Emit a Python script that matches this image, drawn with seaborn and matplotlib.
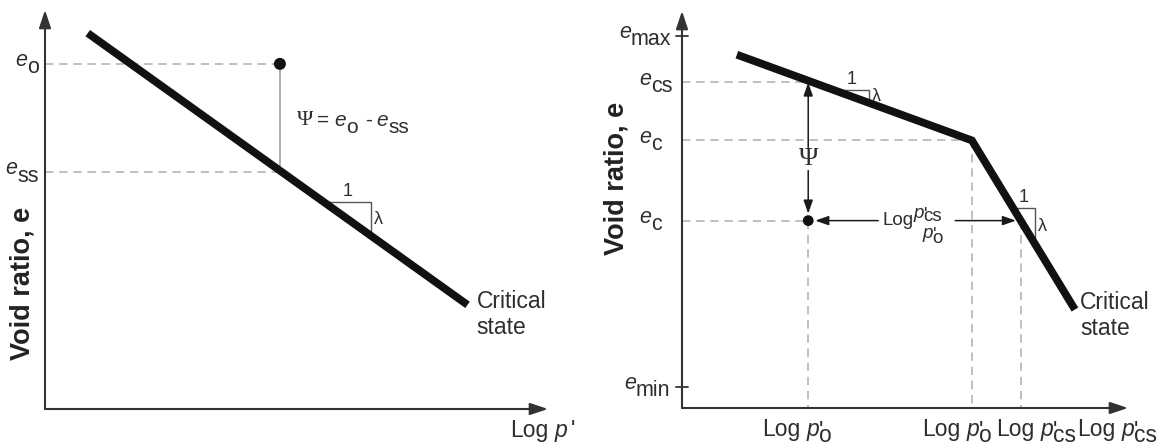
import matplotlib
matplotlib.use("Agg")
import matplotlib.pyplot as plt
import seaborn as sns

# ---------------- data (schematic units: x = log p', y = void ratio e) ----------------
# Left panel: straight critical-state line and the current state of the soil
csl_logp = [0.85, 8.40]
csl_e = [9.42, 2.61]
state_logp = 4.67
e_o = 8.65
e_ss = 5.94

# Right panel: bilinear critical-state line
cs_logp = [1.23, 6.50, 8.81]
cs_e = [8.90, 6.74, 2.48]
e_max = 9.38
e_min = 0.54
e_cs = 8.20
e_c_upper = 6.74
e_c_lower = 4.72
logp_o = 2.83
logp_o_knee = 6.50
logp_cs = 7.60

left_e_labels = [(e_o, "o"), (e_ss, "ss")]
right_e_labels = [(e_max, "max"), (e_cs, "cs"), (e_c_upper, "c"), (e_c_lower, "c"), (e_min, "min")]
right_p_labels = ["o", "o", "cs", "cs"]

# ---------------- styling ----------------
INK = "#2e2e2e"
LINE = "#111111"
DASH_C = "#b4b4b4"
W, H, DPI = 1159, 446, 100
PX = 72.0 / DPI  # points per pixel

sns.set_style("white")
plt.rcParams["font.family"] = ["Liberation Sans", "DejaVu Sans"]
plt.rcParams["text.color"] = INK

fig = plt.figure(figsize=(W / DPI, H / DPI), dpi=DPI)
fig.patch.set_facecolor("white")


def add_panel(x_axis, y_axis, x_tip, y_tip):
    ax = fig.add_axes([x_axis / W, (H - y_axis) / H, (x_tip - x_axis) / W, (y_axis - y_tip) / H])
    ax.set_xlim(0, 10)
    ax.set_ylim(0, 10)
    ax.axis("off")
    return ax


axL = add_panel(45, 409, 548, 10)
axR = add_panel(682, 408, 1128, 11)


def note(ax, x, y, s, dx=0, dy=0, **kw):
    """Text anchored at a data point, shifted by (dx, dy) pixels (dy positive = down)."""
    kw.setdefault("color", INK)
    return ax.annotate(s, xy=(x, y), xytext=(dx * PX, -dy * PX), textcoords="offset points",
                       annotation_clip=False, **kw)


def rich(ax, x, y, parts, dx=0, dy=0, size=15.5):
    """Run of text pieces laid out left to right; 'rise' in em, 'gap' in px, 'over' stacks a mark."""
    prev, prev_rise = None, 0.0
    for text, opts in parts:
        fs = opts.get("size", size)
        props = dict(fontsize=fs, fontstyle=opts.get("style", "normal"), color=INK,
                     annotation_clip=False, textcoords="offset points")
        if "family" in opts:
            props["fontfamily"] = opts["family"]
        rise = opts.get("rise", 0.0) * fs
        gap = opts.get("gap", 0.0) * PX
        if opts.get("over"):
            ax.annotate(text, xy=(1, 1), xycoords=prev, xytext=(gap, -opts.get("drop", 0) * PX),
                        ha="left", va="top", **props)
            continue
        if prev is None:
            a = ax.annotate(text, xy=(x, y), xytext=(dx * PX, -dy * PX + rise),
                            ha="left", va="baseline", **props)
        else:
            a = ax.annotate(text, xy=(1, 0), xycoords=prev, xytext=(gap, rise - prev_rise),
                            ha="left", va="bottom", **props)
        prev, prev_rise = a, rise


def e_label(ax, y, sub, dx):
    rich(ax, 0, y, [("e", {"style": "italic"}), (sub, {"rise": -0.33})], dx=dx, dy=2.5, size=15.5)


def log_p_label(ax, x, sub, dx, size=16.5):
    if sub:
        parts = [("Log", {}), ("p", {"style": "italic", "gap": 6}),
                 ("'", {"over": True, "gap": 0, "drop": 2}), (sub, {"rise": -0.28})]
    else:
        parts = [("Log", {}), ("p", {"style": "italic", "gap": 6}), ("'", {"gap": 4})]
    rich(ax, x, 0, parts, dx=dx, dy=28, size=size)


def axis_arrows(ax):
    kw = dict(arrowstyle="-|>,head_length=0.9,head_width=0.3", color="#333333", lw=1.5,
              mutation_scale=12, shrinkA=0, shrinkB=0)
    ax.annotate("", xy=(10, 0), xytext=(0, 0), arrowprops=kw, annotation_clip=False)
    ax.annotate("", xy=(0, 10), xytext=(0, 0), arrowprops=kw, annotation_clip=False)


def dashed(ax, xs, ys):
    ax.plot(xs, ys, color=DASH_C, lw=1.2, ls=(0, (5, 3.5)), zorder=1, clip_on=False)


def slope_triangle(ax, xs, ys, x0, run):
    slope = (ys[1] - ys[0]) / (xs[1] - xs[0])
    y0 = ys[0] + slope * (x0 - xs[0])
    x1 = x0 + run
    y1 = y0 + slope * run
    ax.plot([x0, x1, x1], [y0, y0, y1], color="#555555", lw=1.0, zorder=2)
    note(ax, (x0 + x1) / 2, y0, "1", dy=-2, ha="center", va="bottom", fontsize=13)
    note(ax, x1, (y0 + y1) / 2, "λ", dx=3, ha="left", va="center", fontsize=13)


def small_arrow(ax, start, end):
    ax.annotate("", xy=end, xytext=start, annotation_clip=False,
                arrowprops=dict(arrowstyle="-|>,head_length=0.8,head_width=0.28", color="#1a1a1a",
                                lw=1.1, mutation_scale=10, shrinkA=0, shrinkB=0))


# ======================= left panel =======================
axis_arrows(axL)
sxL, syL = 10 / 503, 10 / 399  # data units per pixel

dashed(axL, [0, state_logp], [e_o, e_o])
dashed(axL, [0, state_logp], [e_ss, e_ss])
axL.plot([state_logp, state_logp], [e_o, e_ss], color="#9a9a9a", lw=1.1, zorder=1)

sns.lineplot(x=csl_logp, y=csl_e, ax=axL, color=LINE, lw=5.6, solid_capstyle="butt", zorder=3)
sns.scatterplot(x=[state_logp], y=[e_o], ax=axL, color=LINE, s=75, edgecolor="none", zorder=5)

slope_triangle(axL, csl_logp, csl_e, 5.55, 0.93)

rich(axL, state_logp, (e_o + e_ss) / 2,
     [("Ψ", {"family": "Liberation Serif", "size": 16}),
      ("=", {"gap": 4}),
      ("e", {"style": "italic", "gap": 5}),
      ("o", {"rise": -0.33}),
      ("-", {"gap": 7}),
      ("e", {"style": "italic", "gap": 5}),
      ("ss", {"rise": -0.33})],
     dx=17, dy=7, size=15)

for y, sub in left_e_labels:
    e_label(axL, y, sub, dx=-30 if sub == "o" else -40)

note(axL, csl_logp[-1], csl_e[-1], "Critical", dx=9, dy=3, ha="left", va="baseline", fontsize=16.5)
note(axL, csl_logp[-1], csl_e[-1], "state", dx=9, dy=29, ha="left", va="baseline", fontsize=16.5)

log_p_label(axL, 10, None, dx=-38)

fig.text(23 / W, 1 - 283 / H, "Void ratio, e", rotation=90, ha="center", va="center",
         fontsize=19.5, fontweight="bold", color="#222222")

# ======================= right panel =======================
axis_arrows(axR)
sxR, syR = 10 / 446, 10 / 397

dashed(axR, [0, logp_o], [e_cs, e_cs])
dashed(axR, [0, logp_o_knee], [e_c_upper, e_c_upper])
dashed(axR, [0, logp_o], [e_c_lower, e_c_lower])
dashed(axR, [logp_o, logp_o], [e_c_lower, 0])
dashed(axR, [logp_o_knee, logp_o_knee], [e_c_upper, 0])
dashed(axR, [logp_cs, logp_cs], [e_c_lower, 0])

for y in (e_max, e_min):
    axR.plot([-6 * sxR, 6 * sxR], [y, y], color="#333333", lw=1.3, clip_on=False)

sns.lineplot(x=cs_logp, y=cs_e, ax=axR, color=LINE, lw=5.6, solid_capstyle="butt",
             solid_joinstyle="miter", zorder=3)
sns.scatterplot(x=[logp_o], y=[e_c_lower], ax=axR, color=LINE, s=60, edgecolor="none", zorder=5)

slope_triangle(axR, cs_logp[:2], cs_e[:2], 3.40, 0.79)
slope_triangle(axR, cs_logp[1:], cs_e[1:], 7.42, 0.50)

# state parameter arrow (vertical) with Psi in the gap
psi_y = (e_cs + e_c_lower) / 2 - 7 * syR
small_arrow(axR, (logp_o, psi_y + 11 * syR), (logp_o, e_cs))
small_arrow(axR, (logp_o, psi_y - 12 * syR), (logp_o, e_c_lower + 7 * syR))
axR.text(logp_o, psi_y, "Ψ", ha="center", va="center", fontsize=19, color=INK,
         family="Liberation Serif")

# log ratio arrow (horizontal) with the label in the gap
small_arrow(axR, (logp_o + 70 * sxR, e_c_lower), (logp_o + 7 * sxR, e_c_lower))
small_arrow(axR, (logp_o + 147 * sxR, e_c_lower), (logp_cs - 5 * sxR, e_c_lower))
note(axR, logp_o, e_c_lower, "Log", dx=74, dy=4, ha="left", va="baseline", fontsize=13.5)
rich(axR, logp_o, e_c_lower,
     [("p", {"style": "italic"}), ("'", {"over": True, "drop": 2}), ("cs", {"rise": -0.2})],
     dx=105, dy=-3, size=13.5)
rich(axR, logp_o, e_c_lower,
     [("p", {"style": "italic"}), ("'", {"over": True, "drop": 2}), ("o", {"rise": -0.3})],
     dx=114, dy=17, size=13.5)

label_dx = {"max": -63, "cs": -43, "c": -43, "min": -58}
for y, sub in right_e_labels:
    e_label(axR, y, sub, dx=label_dx[sub])

note(axR, cs_logp[-1], cs_e[-1], "Critical", dx=5, dy=-1, ha="left", va="baseline", fontsize=16.5)
note(axR, cs_logp[-1], cs_e[-1], "state", dx=5, dy=25, ha="left", va="baseline", fontsize=16.5)

tick_x = [logp_o, logp_o_knee, logp_cs, 10]
tick_dx = [-46, -50, -25, -51]
for x, sub, dx in zip(tick_x, right_p_labels, tick_dx):
    log_p_label(axR, x, sub, dx=dx)

fig.text(616 / W, 1 - 178 / H, "Void ratio, e", rotation=90, ha="center", va="center",
         fontsize=19.5, fontweight="bold", color="#222222")

fig.savefig("out.png", dpi=DPI, facecolor="white")
